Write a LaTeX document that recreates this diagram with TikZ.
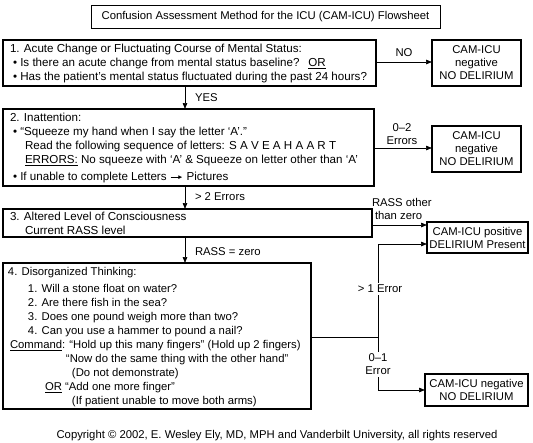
\documentclass[tikz,border=0pt]{standalone}
\usepackage{fontspec}
\setmainfont{Liberation Sans}
\usetikzlibrary{arrows.meta}
\newcommand{\smallarrow}{\hspace{4pt}\rule[3.2pt]{8pt}{0.6pt}\kern-1.5pt{\fontsize{6.5}{7}\selectfont\raisebox{1.2pt}{►}}\hspace{3pt}}
\begin{document}
\begin{tikzpicture}[x=1pt,y=-1pt,
  every node/.style={inner sep=0pt, outer sep=0pt},
  basefont/.style={font=\fontsize{11.3}{14}\selectfont},
  boxfont/.style={font=\fontsize{11.6}{14}\selectfont},
  boxframe/.style={draw, line width=1.1pt, anchor=north west},
  boxtext/.style={boxfont, align=left, anchor=north west},
  endbox/.style={draw, line width=1.1pt, anchor=north west, align=center, font=\fontsize{11.3}{13}\selectfont},
  lbl/.style={basefont, align=center},
  conn/.style={line width=0.7pt, -{Triangle[length=6pt,width=4.5pt]}},
  plain/.style={line width=0.7pt}
]
\useasboundingbox (0,0) rectangle (533,442);

% title
\node[draw, line width=0.9pt, basefont, minimum width=349pt, minimum height=23pt, anchor=north west] (title) at (91,5) {Confusion Assessment Method for the ICU (CAM-ICU) Flowsheet};

% box 1
\node[boxframe, minimum width=373pt, minimum height=46pt] (b1) at (3,40) {};
\node[boxtext] (t1) at (10,44) {1. Acute Change or Fluctuating Course of Mental Status:\\
\hspace*{3pt}• Is there an acute change from mental status baseline?\hspace{9pt}\underline{OR}\\
\hspace*{3pt}• Has the patient’s mental status fluctuated during the past 24 hours?};
\node[endbox, minimum width=89pt, minimum height=46pt] (n1) at (432,40) {CAM-ICU\\negative\\NO DELIRIUM};

% box 2
\node[boxframe, minimum width=371pt, minimum height=77pt] (b2) at (3,109) {};
\node[boxtext] (t2) at (10,113) {2. Inattention:\\
\hspace*{3pt}• “Squeeze my hand when I say the letter ‘A’.”\\
\hspace*{15pt}Read the following sequence of letters: S A V E A H A A R T\\
\hspace*{15pt}\underline{ERRORS:} No squeeze with ‘A’ \& Squeeze on letter other than ‘A’\\[3pt]
\hspace*{3pt}• If unable to complete Letters\smallarrow Pictures};
\node[endbox, minimum width=89pt, minimum height=46pt] (n2) at (432,126) {CAM-ICU\\negative\\NO DELIRIUM};

% box 3
\node[boxframe, minimum width=369pt, minimum height=28pt] (b3) at (3,209) {};
\node[boxtext] (t3) at (10,212) {3. Altered Level of Consciousness\\
\hspace*{15pt}Current RASS level};
\node[endbox, minimum width=101pt, minimum height=31pt] (pos) at (427,222) {CAM-ICU positive\\DELIRIUM Present};

% box 4
\node[boxframe, minimum width=308pt, minimum height=146pt] (b4) at (3,263) {};
\node[boxtext, font=\fontsize{11.3}{14}\selectfont] (t4) at (8,267) {4. Disorganized Thinking:\\[3pt]
\hspace*{20pt}1. Will a stone float on water?\\
\hspace*{20pt}2. Are there fish in the sea?\\
\hspace*{20pt}3. Does one pound weigh more than two?\\
\hspace*{20pt}4. Can you use a hammer to pound a nail?\\
\hspace*{2pt}\underline{Command}: “Hold up this many fingers” (Hold up 2 fingers)\\
\hspace*{58pt}“Now do the same thing with the other hand”\\
\hspace*{64pt}(Do not demonstrate)\\
\hspace*{37pt}\underline{OR} “Add one more finger”\\
\hspace*{64pt}(If patient unable to move both arms)};
\node[endbox, minimum width=103pt, minimum height=32pt] (neg) at (425,374) {CAM-ICU negative\\NO DELIRIUM};

% connectors
\draw[conn] (b1.east |- 0,62) -- (n1.west |- 0,62);
\node[lbl] (lno) at (404,53) {NO};
\draw[conn] (b1.south -| 185,0) -- (b2.north -| 185,0);
\node[lbl, anchor=west] (lyes) at (195,98) {YES};

\draw[conn] (b2.east |- 0,148) -- (n2.west |- 0,148);
\node[lbl, font=\fontsize{11.3}{13}\selectfont] (l02) at (402,134) {0–2\\Errors};
\draw[conn] (b2.south -| 185,0) -- (b3.north -| 185,0);
\node[lbl, anchor=west] (l2e) at (195,197) {> 2 Errors};

\draw[conn] (b3.east |- 0,225) -- (pos.west |- 0,225);
\node[lbl, align=left, anchor=west, font=\fontsize{11.3}{13}\selectfont] (lrass) at (372,209) {RASS other\\\hspace*{3pt}than zero};
\draw[conn] (b3.south -| 185,0) -- (b4.north -| 185,0);
\node[lbl, anchor=west] (lrz) at (195,252) {RASS = zero};

\coordinate (j) at (378,337);
\coordinate (up) at (378,244);
\coordinate (dn) at (378,390);
\draw[plain] (b4.east |- j) -- (j);
\draw[conn] (j) -- (up) -- (pos.west |- up);
\draw[conn] (j) -- (dn) -- (neg.west |- dn);
\node[lbl, fill=white, inner sep=2pt] (l1e) at (380,289) {> 1 Error};
\node[lbl, fill=white, inner sep=2pt, font=\fontsize{11.3}{13}\selectfont] (l01) at (378,364) {0–1\\Error};

% copyright
\node[basefont] (copy) at (277,436) {Copyright © 2002, E. Wesley Ely, MD, MPH and Vanderbilt University, all rights reserved};
\end{tikzpicture}
\end{document}
